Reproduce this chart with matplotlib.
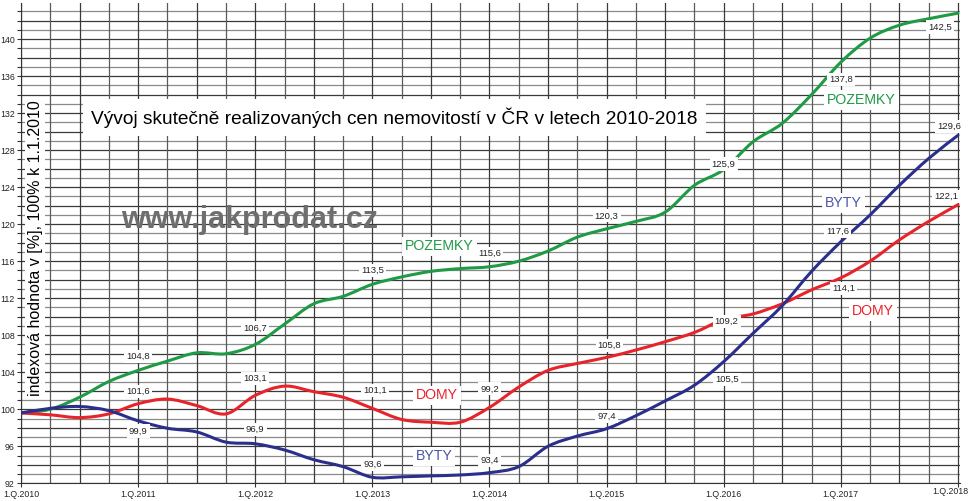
import matplotlib
matplotlib.use("Agg")
import matplotlib.pyplot as plt
import matplotlib.transforms as mtransforms
from matplotlib.path import Path
from matplotlib.patches import PathPatch
import numpy as np

plt.rcParams['font.family'] = ['Liberation Sans', 'DejaVu Sans']

# === Data (quarterly index, 1.Q.2010 .. 1.Q.2018) ===
kvartaly = np.arange(33)
roky = ["2010", "2011", "2012", "2013", "2014", "2015", "2016", "2017", "2018"]

pozemky = [99.6, 100.0, 101.3, 103.0, 104.2, 105.2, 106.1, 106.0, 107.0, 109.2,
           111.4, 112.2, 113.5, 114.3, 114.9, 115.2, 115.4, 116.0, 117.1, 118.6,
           119.5, 120.3, 121.3, 124.2, 125.9, 128.9, 130.9, 134.0, 137.5, 140.1,
           141.5, 142.2, 142.8]
domy = [99.6, 99.4, 99.1, 99.5, 100.6, 101.1, 100.4, 99.5, 101.5, 102.5,
        101.9, 101.3, 100.1, 98.9, 98.6, 98.6, 100.2, 102.4, 104.2, 104.95,
        105.6, 106.4, 107.3, 108.3, 109.7, 110.3, 111.4, 112.9, 114.2, 116.0,
        118.3, 120.3, 122.1]
byty = [99.6, 100.1, 100.3, 99.85, 98.75, 97.95, 97.55, 96.45, 96.27, 95.6,
        94.55, 93.8, 92.65, 92.7, 92.8, 92.9, 93.15, 93.8, 96.0, 97.1,
        97.9, 99.3, 100.9, 102.6, 105.15, 108.2, 111.2, 114.9, 118.1, 121.0,
        124.2, 127.1, 129.6]

# popisky hodnot (text)
pozemky_popisky = ["104,8", "106,7", "113,5", "115,6", "120,3", "125,9", "137,8", "142,5"]
domy_popisky = ["101,6", "103,1", "101,1", "99,2", "105,8", "109,2", "114,1", "122,1"]
byty_popisky = ["99,9", "96,9", "93,6", "93,4", "97,4", "105,5", "117,6", "129,6"]

# pozice popisku (kvartal, hodnota osy)
pozemky_pozice = [(4, 105.7), (8, 108.8), (12, 115.0), (16, 116.8), (20, 120.9),
                  (24, 126.5), (28, 135.6), (31.4, 141.3)]
domy_pozice = [(4, 101.9), (8, 103.3), (12.1, 102.0), (16, 102.2), (20.1, 106.9),
               (24.1, 109.5), (28.1, 113.05), (31.6, 123.0)]
byty_pozice = [(4, 97.65), (8, 97.8), (12, 94.0), (16, 94.5), (20, 99.2),
               (24.1, 103.2), (27.9, 119.2), (31.7, 130.6)]

ZELENA = '#1f9a45'
CERVENA = '#e8242b'
MODRA = '#2b2f8c'


def hladka_krivka(ax, x, y, barva):
    # krivka vedena presne body (Catmull-Rom -> Bezier)
    p = np.column_stack([x, y]).astype(float)
    p_ext = np.vstack([p[0], p, p[-1]])
    verts = [p[0]]
    codes = [Path.MOVETO]
    for i in range(1, len(p_ext) - 2):
        p0, p1, p2, p3 = p_ext[i - 1], p_ext[i], p_ext[i + 1], p_ext[i + 2]
        verts += [p1 + (p2 - p0) / 6, p2 - (p3 - p1) / 6, p2]
        codes += [Path.CURVE4] * 3
    ax.add_patch(PathPatch(Path(verts, codes), facecolor='none', edgecolor=barva,
                           lw=2.2, zorder=4, capstyle='round'))


fig = plt.figure(figsize=(9.7, 5.01), dpi=100)
ax = fig.add_axes([21 / 970, 17.7 / 501, 939 / 970, 480.3 / 501])

ax.set_xlim(0, 32.07)
ax.set_ylim(92, 143.9)

# mrizka
for v in range(92, 144):
    ax.axhline(v, color='#3a3a3a' if v % 2 == 0 else '#8a8a8a', lw=0.9, zorder=1)
for q in range(0, 33):
    ax.axvline(q, color='#3a3a3a' if q % 2 == 0 else '#5a5a5a', lw=0.9, zorder=1)

ax.set_yticks(np.arange(92, 141, 4))
ax.set_yticks(np.arange(92, 144, 1), minor=True)
ax.set_xticks(np.arange(0, 33, 4))
ax.set_xticklabels(["1.Q." + r for r in roky])
ax.tick_params(axis='both', labelsize=6.3, length=3, width=0.8, color='#333333',
               labelcolor='#222222', pad=1.5)
ax.tick_params(axis='y', which='minor', length=3, width=0.8, color='#333333')
ax.tick_params(axis='x', pad=2)
posun = mtransforms.ScaledTranslation(0.10, 0.03, fig.dpi_scale_trans)
posledni = ax.get_xticklabels()[-1]
posledni.set_horizontalalignment('right')
posledni.set_transform(posledni.get_transform() + posun)
for s in ['top', 'right']:
    ax.spines[s].set_visible(False)
ax.spines['left'].set_color('#333333')
ax.spines['bottom'].set_color('#333333')

hladka_krivka(ax, kvartaly, pozemky, ZELENA)
hladka_krivka(ax, kvartaly, domy, CERVENA)
hladka_krivka(ax, kvartaly, byty, MODRA)

box = dict(facecolor='white', edgecolor='none', pad=1.5)
for popisky, pozice in [(pozemky_popisky, pozemky_pozice),
                        (domy_popisky, domy_pozice),
                        (byty_popisky, byty_pozice)]:
    for t, (x, y) in zip(popisky, pozice):
        ax.text(x, y, t, fontsize=6.8, color='#222222', ha='center', va='center',
                bbox=box, zorder=5)

box2 = dict(facecolor='white', edgecolor='none', pad=2)
nazvy = [("POZEMKY", 14.3, 117.6, ZELENA), ("POZEMKY", 28.7, 133.4, ZELENA),
         ("DOMY", 14.2, 101.5, CERVENA), ("DOMY", 29.1, 110.6, CERVENA),
         ("BYTY", 14.1, 94.9, '#4a55a8'), ("BYTY", 28.1, 122.3, '#4a55a8')]
for t, x, y, c in nazvy:
    ax.text(x, y, t, fontsize=10.2, color=c, ha='center', va='center',
            bbox=box2, zorder=5)

ax.text(12.75, 131.5, "Vývoj skutečně realizovaných cen nemovitostí v ČR v letech 2010-2018",
        fontsize=13.8, color='black', ha='center', va='center',
        bbox=dict(facecolor='white', edgecolor='none', pad=6), zorder=5)

ax.text(7.8, 120.5, "www.jakprodat.cz", fontsize=22, fontweight='bold', color='#6e6e6e',
        ha='center', va='center', zorder=5)

ax.text(0.48, 117.4, "indexová hodnota v [%], 100% k 1.1.2010", rotation=90,
        fontsize=11.5, color='black', ha='center', va='center',
        bbox=dict(facecolor='white', edgecolor='none', pad=1.5), zorder=5)

fig.savefig("out.png", dpi=100)
